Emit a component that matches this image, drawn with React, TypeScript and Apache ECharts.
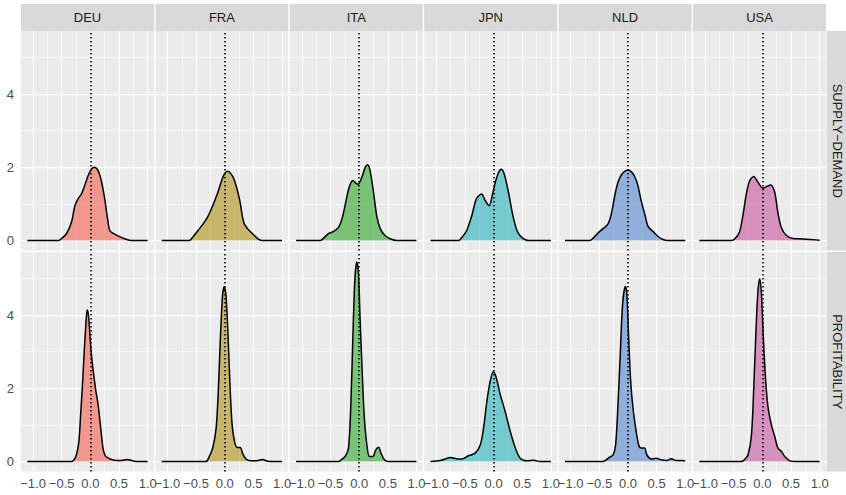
import React, { useEffect, useRef } from 'react';
import * as echarts from 'echarts';

const countries = ['DEU', 'FRA', 'ITA', 'JPN', 'NLD', 'USA'];
const measures = ['SUPPLY−DEMAND', 'PROFITABILITY'];
const fillColors = ['#F36150', '#AD9114', '#2FA72B', '#28B2BB', '#5584CD', '#C653A0'];

const xTicks = [-1, -0.5, 0, 0.5, 1];
const xMinor = [-0.75, -0.25, 0.25, 0.75];
const yTicks = [0, 2, 4];
const yMinor = [1, 3, 5];

// SUPPLY−DEMAND densities
const deuSD = [[-1.1,0],[-0.56,0],[-0.51,0.05],[-0.42,0.18],[-0.33,0.5],[-0.27,0.95],[-0.215,1.14],[-0.157,1.27],[-0.1,1.5],[-0.04,1.77],[0.017,1.95],[0.07,2.0],[0.134,1.91],[0.19,1.64],[0.25,1.14],[0.3,0.59],[0.34,0.27],[0.4,0.2],[0.51,0.11],[0.6,0.05],[0.72,0],[1.0,0]];
const fraSD = [[-1.1,0],[-0.62,0],[-0.56,0.09],[-0.47,0.27],[-0.38,0.45],[-0.3,0.64],[-0.21,0.95],[-0.12,1.32],[-0.064,1.59],[-0.006,1.82],[0.05,1.89],[0.11,1.82],[0.17,1.64],[0.256,1.14],[0.33,0.5],[0.4,0.32],[0.49,0.18],[0.58,0.05],[0.66,0],[1.0,0]];
const itaSD = [[-1.1,0],[-0.68,0],[-0.62,0.07],[-0.53,0.2],[-0.45,0.245],[-0.36,0.36],[-0.3,0.59],[-0.24,1.0],[-0.18,1.43],[-0.11,1.64],[-0.06,1.57],[-0.02,1.54],[0.047,1.73],[0.105,2.0],[0.148,2.07],[0.19,1.91],[0.25,1.32],[0.31,0.64],[0.37,0.32],[0.45,0.14],[0.54,0.05],[0.66,0],[1.0,0]];
const jpnSD = [[-1.1,0],[-0.61,0],[-0.55,0.09],[-0.47,0.27],[-0.38,0.68],[-0.3,1.14],[-0.21,1.27],[-0.145,1.09],[-0.075,0.95],[-0.03,1.18],[0.03,1.59],[0.087,1.86],[0.134,1.95],[0.186,1.82],[0.26,1.32],[0.337,0.68],[0.41,0.27],[0.49,0.09],[0.61,0],[1.0,0]];
const nldSD = [[-1.1,0],[-0.67,0],[-0.61,0.06],[-0.52,0.21],[-0.44,0.32],[-0.35,0.45],[-0.29,0.73],[-0.23,1.23],[-0.174,1.59],[-0.116,1.79],[-0.058,1.89],[0,1.93],[0.058,1.88],[0.116,1.75],[0.174,1.5],[0.23,1.09],[0.3,0.68],[0.35,0.39],[0.44,0.245],[0.52,0.12],[0.61,0.03],[0.7,0],[1.0,0]];
const usaSD = [[-1.1,0],[-0.54,0],[-0.48,0.05],[-0.4,0.23],[-0.34,0.68],[-0.28,1.27],[-0.22,1.64],[-0.15,1.75],[-0.076,1.59],[0.012,1.43],[0.08,1.48],[0.145,1.52],[0.215,1.32],[0.27,0.77],[0.33,0.36],[0.42,0.14],[0.535,0.06],[0.71,0.045],[0.94,0.02],[1.0,0.01]];

// PROFITABILITY densities
const deuPR = [[-1.1,0],[-0.33,0],[-0.285,0.05],[-0.244,0.18],[-0.2,0.55],[-0.17,1.28],[-0.134,2.2],[-0.1,3.21],[-0.064,4.05],[-0.048,4.14],[-0.025,3.85],[0.017,2.94],[0.087,2.02],[0.134,1.56],[0.18,0.92],[0.22,0.37],[0.26,0.16],[0.32,0.09],[0.42,0.04],[0.54,0.03],[0.645,0.055],[0.74,0.02],[0.83,0],[1.0,0]];
const fraPR = [[-1.1,0],[-0.33,0],[-0.27,0.14],[-0.21,0.37],[-0.15,0.92],[-0.11,2.02],[-0.076,3.39],[-0.04,4.5],[-0.01,4.78],[0.023,4.5],[0.058,3.39],[0.093,2.02],[0.128,1.01],[0.17,0.55],[0.215,0.385],[0.27,0.385],[0.31,0.23],[0.37,0.07],[0.46,0.02],[0.58,0.03],[0.66,0.055],[0.75,0.01],[0.87,0],[1.0,0]];
const itaPR = [[-1.1,0],[-0.36,0],[-0.3,0.07],[-0.244,0.14],[-0.186,0.37],[-0.145,1.56],[-0.11,3.39],[-0.076,4.95],[-0.042,5.45],[-0.012,5.14],[0.017,3.85],[0.052,2.48],[0.087,1.28],[0.134,0.46],[0.18,0.14],[0.24,0.14],[0.29,0.32],[0.34,0.39],[0.38,0.23],[0.44,0.05],[0.51,0],[1.0,0]];
const jpnPR = [[-1.1,0],[-0.93,0.03],[-0.75,0.11],[-0.62,0.07],[-0.55,0.07],[-0.44,0.16],[-0.32,0.23],[-0.23,0.46],[-0.174,0.92],[-0.116,1.65],[-0.058,2.2],[-0.005,2.45],[0.047,2.29],[0.116,1.83],[0.2,1.38],[0.29,0.83],[0.38,0.37],[0.465,0.09],[0.58,0.02],[0.7,0.04],[0.81,0],[1.0,0]];
const nldPR = [[-1.1,0],[-0.44,0],[-0.38,0.05],[-0.32,0.12],[-0.26,0.18],[-0.215,0.46],[-0.174,1.56],[-0.134,2.94],[-0.093,4.31],[-0.045,4.78],[-0.02,4.59],[0.012,3.39],[0.047,2.2],[0.087,1.47],[0.134,0.92],[0.186,0.46],[0.23,0.37],[0.29,0.37],[0.33,0.18],[0.41,0.07],[0.49,0.09],[0.58,0.05],[0.67,0.03],[0.756,0.08],[0.84,0.03],[0.93,0.03],[1.0,0.02]];
const usaPR = [[-1.1,0],[-0.37,0],[-0.31,0.055],[-0.25,0.18],[-0.19,0.73],[-0.15,2.02],[-0.116,3.39],[-0.08,4.59],[-0.045,4.99],[-0.017,4.59],[0.017,3.39],[0.058,2.2],[0.1,1.47],[0.157,1.01],[0.215,0.69],[0.27,0.37],[0.33,0.28],[0.39,0.14],[0.48,0.02],[0.59,0],[1.0,0]];

const densities = [
  [deuSD, fraSD, itaSD, jpnSD, nldSD, usaSD],
  [deuPR, fraPR, itaPR, jpnPR, nldPR, usaPR],
];

const FONT = "'Liberation Sans', Arial, Helvetica, sans-serif";

export default function App() {
  const ref = useRef<HTMLDivElement>(null);

  useEffect(() => {
    if (!ref.current) return;
    const chart = echarts.init(ref.current, undefined, { renderer: 'svg' });

    const LEFT = 21;
    const PANEL_W = 133;
    const STEP_X = 134.4;
    const TOP = 31;
    const PANEL_H = 219.5;
    const STEP_Y = 221;
    const X_MIN = -1.21;
    const X_MAX = 1.11;
    const Y_MIN = -0.27;
    const Y_MAX = 5.72;
    const STRIP_TOP = 4;
    const STRIP_H = 27;
    const RSTRIP_X = LEFT + 5 * STEP_X + PANEL_W + 0.5;
    const RSTRIP_W = 846 - RSTRIP_X;

    const grid: any[] = [];
    const xAxis: any[] = [];
    const yAxis: any[] = [];
    const series: any[] = [];

    const fmt = (v: number) => v.toFixed(1).replace('-', '\u2212');

    for (let r = 0; r < 2; r++) {
      for (let c = 0; c < 6; c++) {
        const idx = r * 6 + c;
        grid.push({
          left: LEFT + c * STEP_X,
          top: TOP + r * STEP_Y,
          width: PANEL_W,
          height: PANEL_H,
          show: true,
          backgroundColor: '#EBEBEB',
          borderWidth: 0,
          containLabel: false,
        });
        xAxis.push({
          type: 'value',
          gridIndex: idx,
          min: X_MIN,
          max: X_MAX,
          axisLine: { show: false },
          splitLine: { show: false },
          axisTick: {
            show: r === 1,
            length: 3.7,
            lineStyle: { color: '#333333', width: 1.1 },
            customValues: xTicks,
          },
          axisLabel: {
            show: r === 1,
            customValues: xTicks,
            formatter: (v: number) => fmt(v),
            color: '#4D4D4D',
            fontSize: 13,
            fontFamily: FONT,
            margin: 5,
          },
        });
        yAxis.push({
          type: 'value',
          gridIndex: idx,
          min: Y_MIN,
          max: Y_MAX,
          axisLine: { show: false },
          splitLine: { show: false },
          axisTick: {
            show: c === 0,
            length: 3.7,
            lineStyle: { color: '#333333', width: 1.1 },
            customValues: yTicks,
          },
          axisLabel: {
            show: c === 0,
            customValues: yTicks,
            formatter: (v: number) => String(v),
            color: '#4D4D4D',
            fontSize: 13,
            fontFamily: FONT,
            margin: 7,
          },
        });

        const gridLines = [
          ...xMinor.map((v) => ({ xAxis: v, lineStyle: { color: '#FFFFFF', width: 0.6, type: 'solid' } })),
          ...yMinor.map((v) => ({ yAxis: v, lineStyle: { color: '#FFFFFF', width: 0.6, type: 'solid' } })),
          ...xTicks.map((v) => ({ xAxis: v, lineStyle: { color: '#FFFFFF', width: 1.25, type: 'solid' } })),
          ...yTicks.map((v) => ({ yAxis: v, lineStyle: { color: '#FFFFFF', width: 1.25, type: 'solid' } })),
        ];

        series.push({
          type: 'line',
          xAxisIndex: idx,
          yAxisIndex: idx,
          data: [],
          z: 1,
          silent: true,
          symbol: 'none',
          markLine: {
            z: 1,
            silent: true,
            symbol: ['none', 'none'],
            label: { show: false },
            emphasis: { disabled: true },
            animation: false,
            data: gridLines,
          },
        });

        series.push({
          type: 'line',
          name: countries[c] + ' ' + measures[r],
          xAxisIndex: idx,
          yAxisIndex: idx,
          data: densities[r][c],
          smooth: 0.3,
          symbol: 'none',
          z: 3,
          silent: true,
          lineStyle: { color: '#000000', width: 1.5 },
          areaStyle: { color: fillColors[c], opacity: 0.6 },
        });

        series.push({
          type: 'line',
          xAxisIndex: idx,
          yAxisIndex: idx,
          data: [],
          z: 6,
          silent: true,
          symbol: 'none',
          markLine: {
            z: 6,
            silent: true,
            symbol: ['none', 'none'],
            label: { show: false },
            emphasis: { disabled: true },
            animation: false,
            data: [{ xAxis: 0, lineStyle: { color: '#000000', width: 1.6, type: [1.4, 2.6] } }],
          },
        });
      }
    }

    const graphic: any[] = [];
    for (let c = 0; c < 6; c++) {
      const x = LEFT + c * STEP_X;
      graphic.push({
        type: 'rect',
        shape: { x, y: STRIP_TOP, width: PANEL_W, height: STRIP_H },
        style: { fill: '#D9D9D9' },
        silent: true,
      });
      graphic.push({
        type: 'text',
        x: x + PANEL_W / 2,
        y: STRIP_TOP + STRIP_H / 2,
        silent: true,
        style: {
          text: countries[c],
          fill: '#1A1A1A',
          fontSize: 13,
          fontFamily: FONT,
          align: 'center',
          verticalAlign: 'middle',
          textAlign: 'center',
          textVerticalAlign: 'middle',
        },
      });
    }
    for (let r = 0; r < 2; r++) {
      const y = TOP + r * STEP_Y;
      graphic.push({
        type: 'rect',
        shape: { x: RSTRIP_X, y, width: RSTRIP_W, height: PANEL_H },
        style: { fill: '#D9D9D9' },
        silent: true,
      });
      graphic.push({
        type: 'text',
        x: RSTRIP_X + RSTRIP_W / 2 + 1,
        y: y + PANEL_H / 2,
        rotation: -Math.PI / 2,
        silent: true,
        style: {
          text: measures[r],
          fill: '#1A1A1A',
          fontSize: 13,
          fontFamily: FONT,
          align: 'center',
          verticalAlign: 'middle',
          textAlign: 'center',
          textVerticalAlign: 'middle',
        },
      });
    }

    chart.setOption({
      animation: false,
      backgroundColor: '#FFFFFF',
      grid,
      xAxis,
      yAxis,
      series,
      graphic,
    });

    return () => chart.dispose();
  }, []);

  return (
    <div
      ref={ref}
      style={{ position: 'fixed', left: 0, top: 0, width: 846, height: 495 }}
    />
  );
}
